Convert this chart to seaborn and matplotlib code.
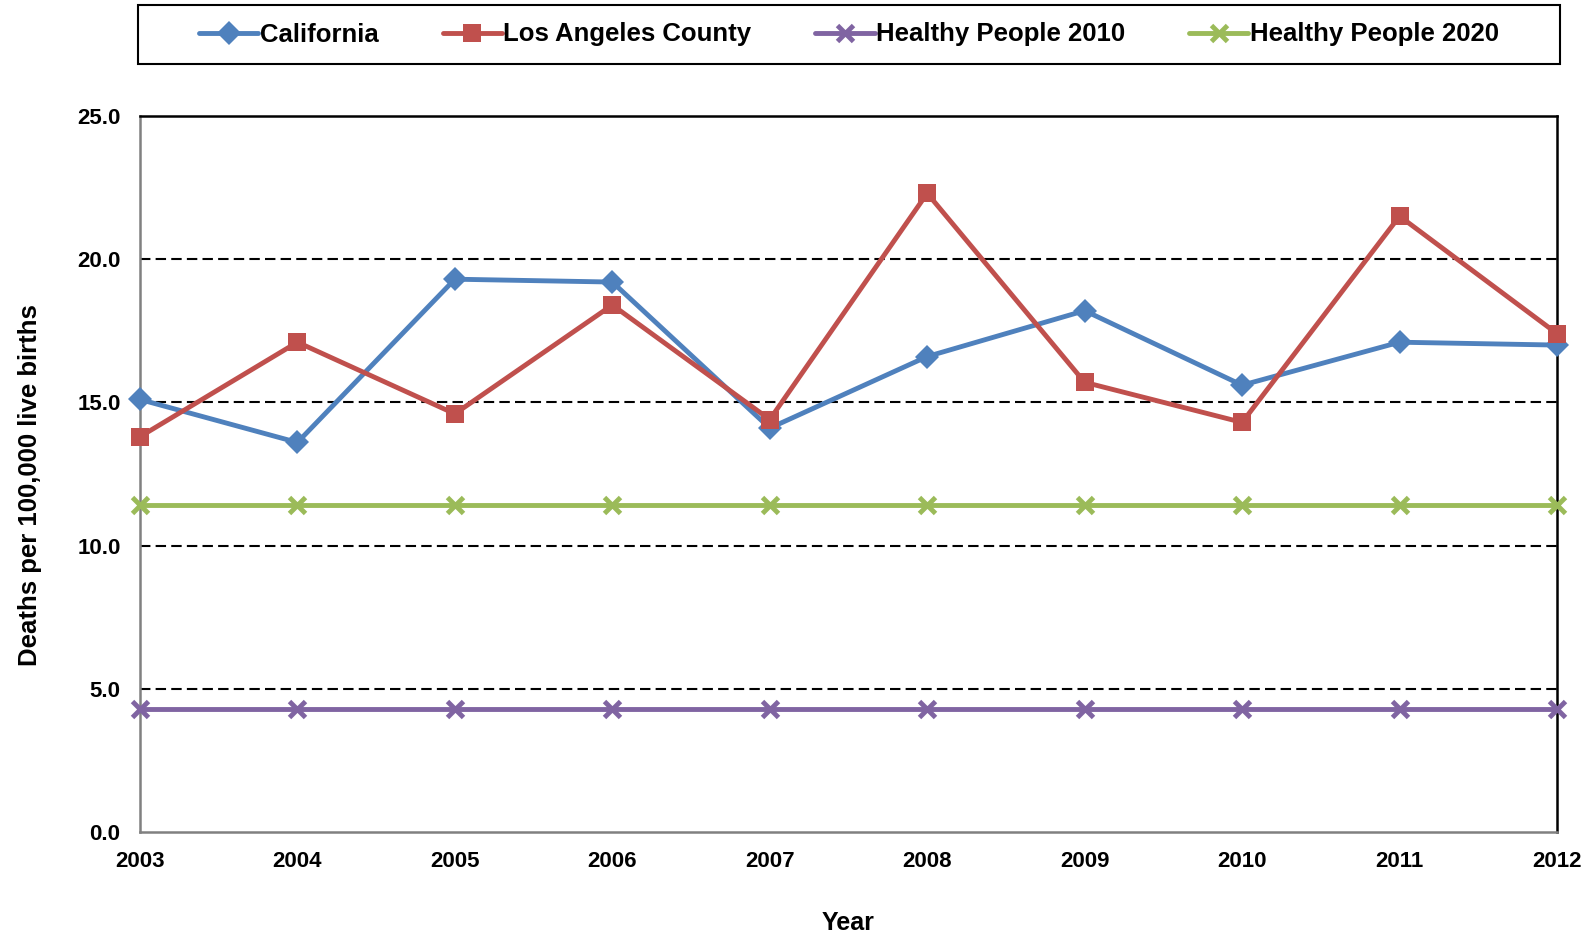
import pandas as pd
import matplotlib.pyplot as plt
import seaborn as sns
from matplotlib.lines import Line2D
from matplotlib.patches import Rectangle

# Chart values
years = [2003, 2004, 2005, 2006, 2007, 2008, 2009, 2010, 2011, 2012]
california = [15.1, 13.6, 19.3, 19.2, 14.1, 16.6, 18.2, 15.6, 17.1, 17.0]
la_county = [13.8, 17.1, 14.6, 18.4, 14.4, 22.3, 15.7, 14.3, 21.5, 17.4]
hp2010 = [4.3] * 10
hp2020 = [11.4] * 10
series_names = ['California', 'Los Angeles County', 'Healthy People 2010', 'Healthy People 2020']

df = pd.concat([
    pd.DataFrame({'Year': years, 'Rate': vals, 'Series': name})
    for name, vals in zip(series_names, [california, la_county, hp2010, hp2020])
])

sns.set_style('white')
plt.rcParams['font.family'] = ['Liberation Sans', 'DejaVu Sans']
plt.rcParams['font.weight'] = 'bold'
plt.rcParams['text.color'] = 'black'
plt.rcParams['axes.labelcolor'] = 'black'
plt.rcParams['xtick.labelcolor'] = 'black'
plt.rcParams['ytick.labelcolor'] = 'black'

colors = ['#4F81BD', '#C0504D', '#8064A2', '#9BBB59']
palette = dict(zip(series_names, colors))
# marker style per series: (marker, size, edge width)
mstyle = {'California': ('D', 12, 0), 'Los Angeles County': ('s', 13.5, 0),
          'Healthy People 2010': ('x', 12, 3.5), 'Healthy People 2020': ('x', 12, 3.5)}

fig = plt.figure(figsize=(15.94, 9.35), dpi=100)
ax = fig.add_axes([0.0878, 0.1102, 0.889, 0.7658])

sns.lineplot(data=df, x='Year', y='Rate', hue='Series', palette=palette,
             linewidth=3.5, legend=False, ax=ax)

# set markers per series (seaborn can't mix filled and line-art markers)
for line, name in zip(ax.lines, series_names):
    m, ms, mew = mstyle[name]
    line.set_marker(m)
    line.set_markersize(ms)
    line.set_markeredgewidth(mew)
    line.set_markeredgecolor(palette[name])
    line.set_markerfacecolor(palette[name])
    line.set_clip_on(False)
    line.set_zorder(5)

ax.set_xlim(2003, 2012)
ax.set_ylim(0, 25)
ax.set_xticks(years)
ax.set_xticklabels([str(y) for y in years], fontsize=16, fontweight='bold')
ax.set_yticks([0, 5, 10, 15, 20, 25])
ax.set_yticklabels(['0.0', '5.0', '10.0', '15.0', '20.0', '25.0'], fontsize=16, fontweight='bold')
for y in [5, 10, 15, 20]:
    ax.axhline(y, color='black', linestyle=(0, (5, 2.5)), linewidth=1.5, zorder=0)

for side in ['top', 'right']:
    ax.spines[side].set_color('black')
    ax.spines[side].set_linewidth(1.8)
for side in ['left', 'bottom']:
    ax.spines[side].set_color('#808080')
    ax.spines[side].set_linewidth(1.8)
ax.tick_params(axis='both', direction='out', length=6, width=1.2, color='#808080', pad=8)

ax.set_xlabel('Year', fontsize=18, fontweight='bold', labelpad=28)
ax.set_ylabel('Deaths per 100,000 live births', fontsize=18.5, fontweight='bold')
ax.yaxis.set_label_coords(-0.069, 0.485)

# legend in a framed box across the top
handles = [Line2D([], [], color=palette[n], linewidth=3.5, marker=mstyle[n][0],
                  markersize=mstyle[n][1], markeredgewidth=mstyle[n][2],
                  markeredgecolor=palette[n], markerfacecolor=palette[n])
           for n in series_names]
fig.patches.append(Rectangle((138 / 1594, 1 - 64 / 935), 1422 / 1594, 59 / 935,
                             transform=fig.transFigure, fill=False,
                             edgecolor='black', linewidth=1.5))
fig.legend(handles, series_names, loc='center', ncol=4,
           bbox_to_anchor=(849 / 1594, 1 - 34.5 / 935), frameon=False,
           prop={'size': 18.5, 'weight': 'bold'}, handlelength=2.3,
           handletextpad=0.05, columnspacing=2.5)

fig.savefig('out.png', dpi=100)
